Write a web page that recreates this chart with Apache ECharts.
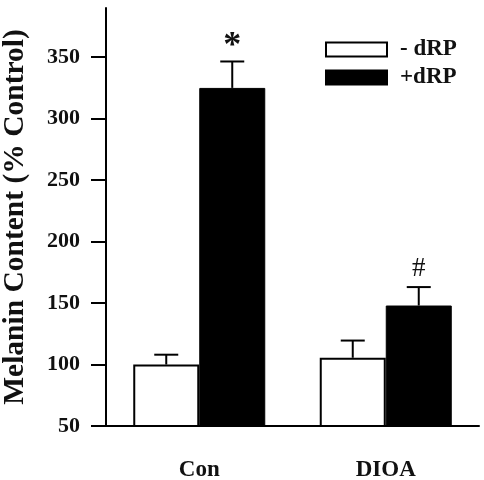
<!DOCTYPE html>
<html>
<head>
<meta charset="utf-8">
<script src="https://cdn.jsdelivr.net/npm/echarts@6/dist/echarts.min.js"></script>
<style>
  html, body { margin: 0; padding: 0; background: #fff; }
  #chart { width: 484px; height: 480px; }
</style>
</head>
<body>
<div id="chart"></div>
<script>
// data
var categories = ['Con', 'DIOA'];
var seriesNames = ['- dRP', '+dRP'];
var minusMean = [100, 105.5];
var minusErr = [8, 14];
var plusMean = [325, 148];
var plusErr = [21.5, 15];
var plusMarks = ['*', '#'];
var yTicks = [50, 100, 150, 200, 250, 300, 350];

var FONT = '"Liberation Serif", "Times New Roman", serif';
var chart = echarts.init(document.getElementById('chart'));

// error bar (upper only) + significance mark
function errRender(offset, marks) {
    return function (params, api) {
        var cat = api.value(0);
        var base = api.coord([cat, api.value(1)]);
        var top = api.coord([cat, api.value(1) + api.value(2)]);
        var x = base[0] + offset;
        var children = [
            { type: 'line', shape: { x1: x, y1: base[1], x2: x, y2: top[1] },
              style: { stroke: '#000', lineWidth: 2 } },
            { type: 'line', shape: { x1: x - 12, y1: top[1], x2: x + 12, y2: top[1] },
              style: { stroke: '#000', lineWidth: 2 } }
        ];
        var m = marks ? marks[params.dataIndex] : '';
        if (m) {
            var star = m === '*';
            children.push({
                type: 'text',
                style: {
                    text: m, x: x, y: top[1] - (star ? -3 : 5),
                    align: 'center', verticalAlign: 'bottom',
                    font: (star ? 'bold 36px ' : '27px ') + FONT,
                    fill: '#111'
                }
            });
        }
        return { type: 'group', children: children };
    };
}

function errData(means, errs) {
    return means.map(function (v, i) { return [i, v, errs[i]]; });
}

var option = {
    animation: false,
    grid: { left: 106, right: 5, top: 8, bottom: 54, outerBoundsMode: 'none', containLabel: false },
    legend: {
        data: seriesNames,
        orient: 'vertical',
        left: 325,
        top: 38,
        padding: 0,
        itemWidth: 61,
        itemHeight: 14,
        itemGap: 5,
        icon: 'rect',
        textStyle: { fontFamily: FONT, fontWeight: 'bold', fontSize: 23, lineHeight: 22, color: '#111', padding: [0, 0, 0, 8] }
    },
    xAxis: {
        type: 'category',
        data: categories,
        axisLine: { lineStyle: { color: '#000', width: 2 } },
        axisTick: { alignWithLabel: true, length: 15, lineStyle: { color: '#000', width: 2 } },
        axisLabel: { margin: 33, fontFamily: FONT, fontWeight: 'bold', fontSize: 23, color: '#111' }
    },
    yAxis: {
        type: 'value',
        min: 50,
        max: 390,
        interval: 50,
        name: 'Melanin Content (% Control)',
        nameLocation: 'middle',
        nameGap: 76,
        nameTextStyle: { fontFamily: FONT, fontWeight: 'bold', fontSize: 29.5, color: '#111' },
        splitLine: { show: false },
        axisLine: { show: true, lineStyle: { color: '#000', width: 2 } },
        axisTick: { show: true, length: 15, customValues: yTicks, lineStyle: { color: '#000', width: 2 } },
        axisLabel: { margin: 26, customValues: yTicks, fontFamily: FONT, fontWeight: 'bold', fontSize: 22, color: '#111' }
    },
    series: [
        {
            name: seriesNames[0], type: 'bar', data: minusMean,
            barWidth: 66, barGap: '0%',
            itemStyle: { color: '#fff', borderColor: '#000', borderWidth: 2 }
        },
        {
            name: seriesNames[1], type: 'bar', data: plusMean,
            barWidth: 66, barGap: '0%',
            itemStyle: { color: '#000', borderColor: '#000', borderWidth: 1 }
        },
        {
            type: 'custom', z: 5, renderItem: errRender(-33, null),
            data: errData(minusMean, minusErr)
        },
        {
            type: 'custom', z: 5, renderItem: errRender(33, plusMarks),
            data: errData(plusMean, plusErr)
        }
    ]
};
chart.setOption(option);
</script>
</body>
</html>
